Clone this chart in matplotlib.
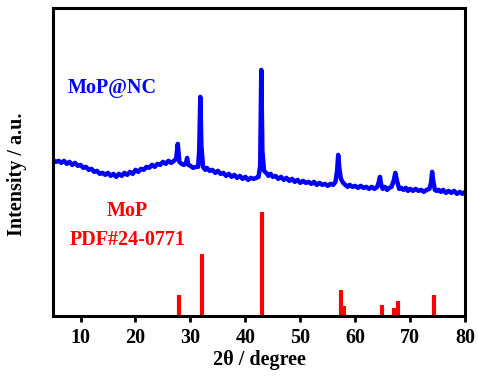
import matplotlib
matplotlib.use("Agg")
import matplotlib.pyplot as plt

plt.rcParams['font.family'] = ['Liberation Serif', 'DejaVu Serif']
plt.rcParams['font.weight'] = 'bold'

two_theta = [
    5.0, 5.5, 6.0, 6.5, 7.0, 7.5, 8.0, 8.5, 9.0, 9.5,
    10.0, 10.5, 11.0, 11.5, 12.0, 12.5, 13.0, 13.5, 14.0, 14.5,
    15.0, 15.5, 16.0, 16.5, 17.0, 17.5, 18.0, 18.5, 19.0, 19.5,
    20.0, 20.5, 21.0, 21.5, 22.0, 22.5, 23.0, 23.5, 24.0, 24.5,
    25.0, 25.5, 26.0, 26.5, 27.0, 27.4, 27.7, 28.0, 28.4, 28.8,
    29.2, 29.4, 29.6, 30.0, 30.5, 31.0, 31.4, 31.6, 31.8, 32.0,
    32.3, 32.7, 33.0, 33.5, 34.0, 34.5, 35.0, 35.5, 36.0, 36.5,
    37.0, 37.5, 38.0, 38.5, 39.0, 39.5, 40.0, 40.5, 41.0, 41.5,
    42.0, 42.4, 42.7, 42.9, 43.1, 43.4, 43.8, 44.2, 44.6, 45.0,
    45.5, 46.0, 46.5, 47.0, 47.5, 48.0, 48.5, 49.0, 49.5, 50.0,
    50.5, 51.0, 51.5, 52.0, 52.5, 53.0, 53.5, 54.0, 54.5, 55.0,
    55.5, 56.0, 56.4, 56.7, 56.9, 57.1, 57.4, 57.8, 58.2, 58.6,
    59.0, 59.5, 60.0, 60.5, 61.0, 61.5, 62.0, 62.5, 63.0, 63.5,
    64.0, 64.3, 64.5, 64.7, 65.0, 65.4, 65.8, 66.2, 66.6, 67.0,
    67.3, 67.6, 68.0, 68.4, 68.8, 69.2, 69.6, 70.0, 70.5, 71.0,
    71.5, 72.0, 72.5, 73.0, 73.5, 73.8, 74.0, 74.2, 74.5, 74.8,
    75.2, 75.6, 76.0, 76.5, 77.0, 77.5, 78.0, 78.5, 79.0, 79.5, 80.0,
]
mop_nc = [
    156, 154, 155, 153, 155, 152, 154, 151, 153, 150,
    151, 148, 149, 146, 147, 144, 145, 142, 143, 141,
    143, 140, 142, 139, 142, 140, 143, 141, 144, 142,
    146, 144, 147, 146, 149, 148, 151, 149, 152, 151,
    154, 152, 155, 153, 155, 157, 172, 154, 152, 151,
    153, 158, 151, 150, 148, 149, 149, 165, 219, 170,
    149, 146, 148, 145, 146, 143, 145, 142, 143, 140,
    142, 139, 141, 138, 140, 137, 139, 136, 138, 137,
    138, 139, 150, 246, 165, 145, 143, 140, 142, 139,
    140, 137, 139, 136, 138, 135, 137, 134, 136, 133,
    135, 133, 134, 132, 134, 131, 133, 131, 132, 130,
    132, 131, 134, 145, 161, 148, 137, 133, 131, 129,
    131, 129, 130, 128, 130, 128, 129, 127, 129, 127,
    129, 134, 139, 132, 127, 129, 126, 128, 129, 135,
    143, 135, 127, 128, 126, 128, 125, 127, 125, 127,
    125, 126, 124, 126, 127, 133, 144, 135, 126, 125,
    126, 124, 126, 123, 125, 123, 125, 122, 124, 122, 124,
]

# MoP reference card PDF#24-0771
ref_pos = [27.9, 32.2, 43.1, 57.4, 58.0, 64.9, 67.0, 67.8, 74.3]
ref_int = [21, 62, 104, 26, 10, 11, 8, 15, 21]

fig = plt.figure(figsize=(4.78, 3.76), dpi=100)
ax = fig.add_axes([0.111, 0.16, 0.862, 0.819])

ax.plot(two_theta, mop_nc, color='#0000ff', lw=3.2)
ax.vlines(ref_pos, 0, ref_int, color='#ff0000', lw=3.0)

ax.set_xlim(5, 80)
ax.set_ylim(0, 308)
ax.set_xticks(range(10, 81, 10))
ax.set_yticks([])
ax.tick_params(axis='x', direction='out', length=4, width=2, labelsize=14.5, pad=5)
for lbl in ax.get_xticklabels():
    lbl.set_fontweight('bold')
for sp in ax.spines.values():
    sp.set_linewidth(2.2)

ax.set_xlabel('2θ / degree', fontsize=14.5, fontweight='bold')
ax.xaxis.set_label_coords(0.5, -0.11)
ax.set_ylabel('Intensity / a.u.', fontsize=14.5, fontweight='bold')
ax.yaxis.set_label_coords(-0.063, 0.46)

ax.text(15.8, 228, 'MoP@NC', color='#0000ff', fontsize=14.5, fontweight='bold',
        ha='center', va='center')
ax.text(18.5, 105, 'MoP', color='#ff0000', fontsize=14.5, fontweight='bold',
        ha='center', va='center')
ax.text(18.5, 76, 'PDF#24-0771', color='#ff0000', fontsize=14.5, fontweight='bold',
        ha='center', va='center')

fig.savefig('out.png', dpi=100)
